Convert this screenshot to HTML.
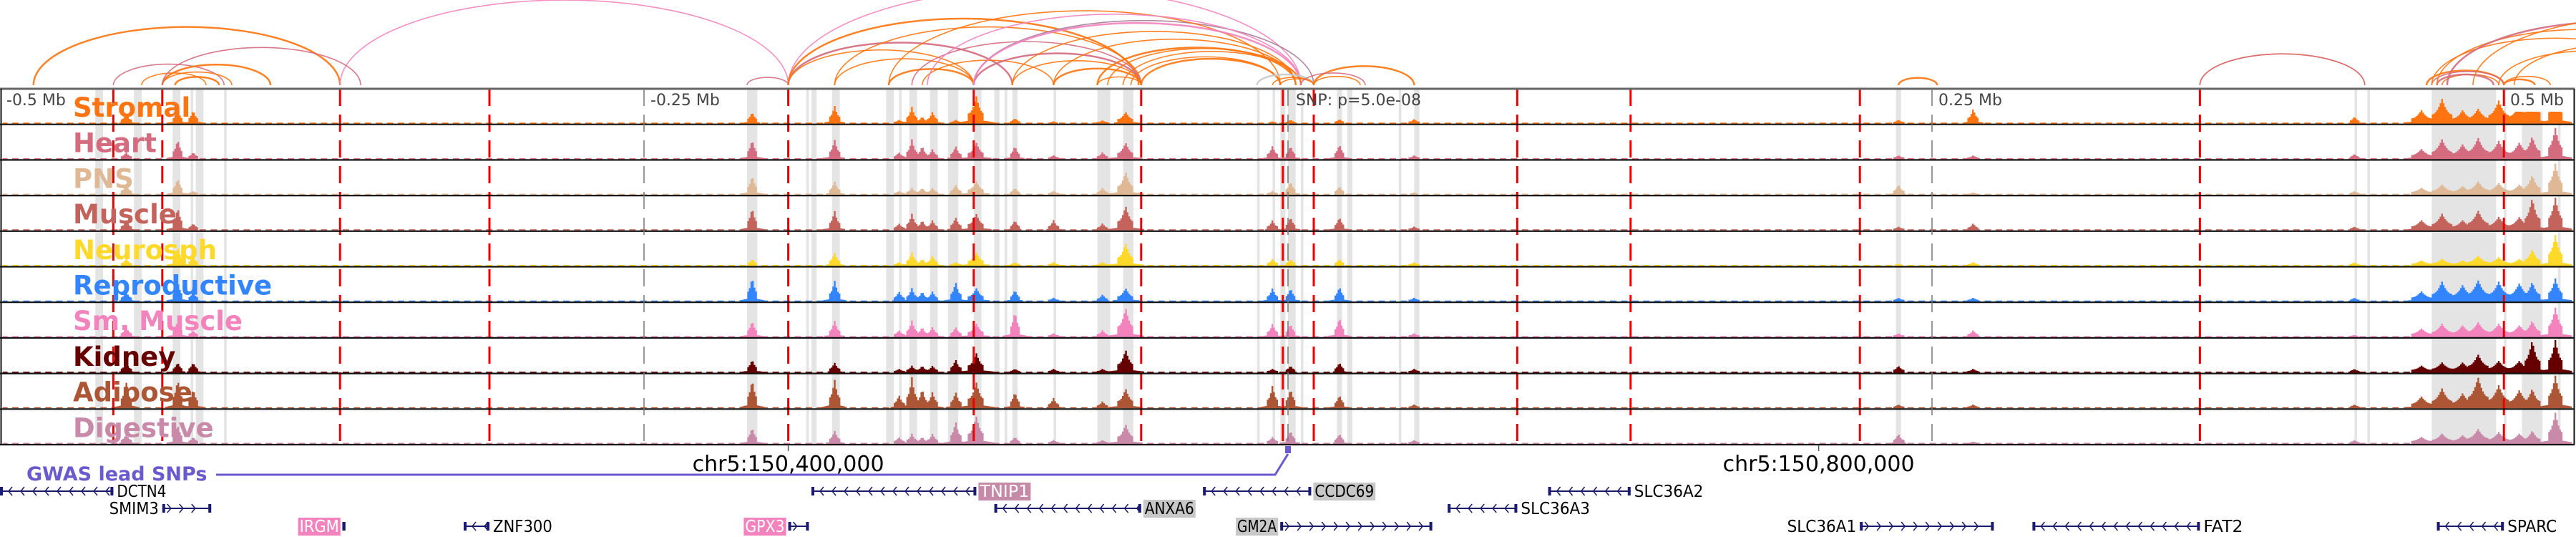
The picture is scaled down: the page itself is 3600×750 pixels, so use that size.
<!DOCTYPE html>
<html><head><meta charset="utf-8">
<style>
html,body{margin:0;padding:0;background:#fff;}
svg{display:block;font-family:"DejaVu Sans","Liberation Sans",sans-serif;}
</style></head>
<body>
<svg id="chart" width="3600" height="750" viewBox="0 0 3600 750" xmlns="http://www.w3.org/2000/svg">
<g id="arcs"></g>
<g id="bands"></g>
<g id="tracks"></g>
<g id="redlines"></g>
<g id="frame"></g>
<g id="labels"></g>
<g id="axis"></g>
<g id="genes"></g>
</svg>
<script>
// ---- data (kb offsets from lead SNP) ----
const tissues = ["Stromal","Heart","PNS","Muscle","Neurosph","Reproductive","Sm. Muscle","Kidney","Adipose","Digestive"];
const tissueColors = ["#ff7410","#d46b7e","#dfb896","#c4635b","#ffd92a","#3385ff","#f283bd","#660000","#ad5635","#c98aa9"];
const peakKb = [-451,-431,-425,-208,-176,-151,-146,-142,-138,-129,-121,-106,-91,-72,-63,-6,1,20,49,237,266,414,440,448,456,462,470,478,483,492];
const peakWidthKb = [2,2,2,2,2,2,2,2,2,2,3,2,2,2,3,2,2,2,2,2,2,2,4,4,4,4,4,4,3,3];
const stromal  = [.3,.4,.4,.35,.55,.1,.5,.2,.35,.1,.85,.15,.05,.08,.35,.05,.1,.12,.12,.1,.45,.2,.4,.75,.4,.45,.7,.6,.95,.9];
const heart    = [.2,.6,.2,.6,.6,.2,.6,.4,.3,.4,.5,.4,.1,.2,.5,.4,.4,.45,.1,.1,.1,.15,.3,.6,.45,.65,.55,.5,.7,.95];
const pns      = [.3,.5,.1,.6,.4,.1,.2,.2,.2,.3,.4,.2,.1,.2,.7,.1,.4,.25,.05,.3,.05,.1,.2,.3,.25,.4,.35,.3,.6,.95];
const muscle   = [.3,.7,.2,.7,.6,.2,.5,.3,.3,.4,.5,.3,.3,.2,.75,.3,.4,.4,.1,.1,.2,.1,.3,.5,.3,.6,.4,.4,1,1];
const neurosph = [.2,.6,.3,.2,.4,.1,.4,.2,.3,.1,.4,.1,.1,.1,.7,.2,.2,.2,.1,.05,.1,.1,.15,.2,.15,.3,.25,.2,.5,.95];
const repro    = [.3,.6,.3,.75,.65,.3,.4,.3,.3,.6,.4,.35,.1,.2,.4,.4,.4,.45,.1,.1,.1,.1,.3,.6,.5,.65,.6,.55,.6,.7];
const smmuscle = [.3,.5,.2,.5,.5,.2,.5,.3,.3,.3,.4,.8,.1,.2,.9,.4,.4,.6,.1,.1,.2,.05,.25,.4,.35,.45,.4,.35,.5,.9];
const kidney   = [.3,.3,.3,.4,.3,.1,.2,.2,.2,.4,.6,.1,.1,.1,.7,.1,.2,.3,.1,.2,.1,.1,.2,.3,.3,.55,.35,.35,1,1];
const adipose  = [.8,.9,.6,.9,.9,.4,.95,.6,.5,.5,.8,.5,.3,.2,.6,.7,.6,.4,.1,.1,.1,.1,.35,.6,.45,.95,.7,.55,.6,1];
const digestive= [.3,.6,.2,.5,.4,.2,.3,.2,.3,.7,.85,.2,.1,.1,.6,.2,.4,.3,.1,.3,.05,.1,.2,.3,.25,.45,.35,.3,.4,.95];
const trackValues = [stromal,heart,pns,muscle,neurosph,repro,smmuscle,kidney,adipose,digestive];
const bandKb = [[-463,-460],[-448,-445],[-433,-430],[-426,-425],[-424,-421],[-413,-412],[-210,-206],[-187,-186],[-185,-183],[-177,-174],[-156,-153],[-151,-150],[-147,-144],[-139,-136],[-132,-130],[-130,-128],[-122,-119],[-114,-112],[-110,-109],[-107,-105],[-91,-90],[-74,-69],[-64,-60],[-12,-11],[-6,-5],[-3,-1],[0,3],[5,6],[19,21],[23,25],[43,44],[49,51],[236,238],[414,415],[419,420],[444,469],[472,473],[479,487],[493,494]];
const redKb = [-456,-437,-368,-310,-194,-122,-57,-2,10,89,133,222,354,472];
const axisKb = [-500,-250,0,250,500];
const axisLabels = ["-0.5 Mb","-0.25 Mb","SNP: p=5.0e-08","0.25 Mb","0.5 Mb"];
const arcKb = [[-487,-368],[-368,-194],[-456,-413],[-437,-395],[-445,-420],[-437,-410],[-432,-415],[-437,-360],
 [-210,-194],[-194,-107],[-194,-122],[-194,5],[-194,-58],[-176,-122],[-176,-57],[-155,-122],[-146,-57],[-142,-91],
 [-122,-57],[-122,10],[-107,-57],[-91,-57],[-74,-57],[-61,-3],[-57,-3],[-155,-3],[-140,5],[-122,5],[-107,3],[-91,3],
 [-74,3],[-70,5],[-64,5],[-12,10],[-6,10],[-3,10],[10,49],[5,30],[10,28],[237,252],[354,418],[354,418],
 [442,472],[444,472],[448,470],[446,468],[444,540],[446,560],[450,580],[460,600],[472,490],[472,484],[470,540],[476,560]];
const arcColorIdx = [0,5,1,0,0,0,0,1,1,1,0,5,0,0,0,0,1,0,1,4,0,0,0,0,0,0,5,5,0,0,0,0,0,3,0,0,0,1,0,0,0,1,0,1,0,1,0,0,1,0,0,0,0,0];
const arcPalette = ["#ff7410","#d46b7e","#ffd92a","#c8c8c8","#a77a98","#f283bd"];
const genes = [
 {name:"DCTN4",s:-500,e:-456,row:0,dir:-1,label:"right",box:null},
 {name:"SMIM3",s:-437,e:-418,row:1,dir:1,label:"left",box:null},
 {name:"IRGM",s:-367,e:-366,row:2,dir:0,label:"left",box:"#f283bd"},
 {name:"ZNF300",s:-320,e:-310,row:2,dir:-1,label:"right",box:null},
 {name:"GPX3",s:-194,e:-186,row:2,dir:1,label:"left",box:"#f283bd"},
 {name:"TNIP1",s:-185,e:-121,row:0,dir:-1,label:"right",box:"#c48aa8"},
 {name:"ANXA6",s:-114,e:-57,row:1,dir:-1,label:"right",box:"#c8c8c8"},
 {name:"CCDC69",s:-33,e:9,row:0,dir:-1,label:"right",box:"#c8c8c8"},
 {name:"GM2A",s:-3,e:56,row:2,dir:1,label:"left",box:"#c8c8c8"},
 {name:"SLC36A3",s:62,e:89,row:1,dir:-1,label:"right",box:null},
 {name:"SLC36A2",s:101,e:133,row:0,dir:-1,label:"right",box:null},
 {name:"SLC36A1",s:222,e:274,row:2,dir:1,label:"left",box:null},
 {name:"FAT2",s:289,e:354,row:2,dir:-1,label:"right",box:null},
 {name:"SPARC",s:446,e:472,row:2,dir:-1,label:"right",box:null}
];
// ---- layout ----
const NS="http://www.w3.org/2000/svg";
const X0=1800, PXPERKB=3.6;
function xScale(kb){return X0+kb*PXPERKB;}
const TOP=124, TH=49.7, NT=10, BOTTOM=TOP+TH*NT;
function trackY(i){return TOP+i*TH;}
function yScale(i,v){return trackY(i)+TH-2 - v*(TH-5);}
function mk(tag,attrs,parent){const el=document.createElementNS(NS,tag);for(const k in attrs)el.setAttribute(k,attrs[k]);parent.appendChild(el);return el;}
const g=id=>document.getElementById(id);

// arcs
arcKb.forEach((a,i)=>{
  const x1=xScale(a[0]),x2=xScale(a[1]),w=x2-x1,ry=0.19*w,yb=119;
  const p=mk('path',{d:`M${x1},${yb} A${w/2},${ry} 0 0 1 ${x2},${yb}`,fill:'none',stroke:arcPalette[arcColorIdx[i]]||"#ff7410",'stroke-width':(i%3==0?2.5:1.6),opacity:0.9},g('arcs'));
  
  
});
// bands
bandKb.forEach(b=>{
  const r=mk('rect',{x:xScale(b[0]),y:TOP,width:Math.max(3,xScale(b[1])-xScale(b[0])),height:BOTTOM-TOP,fill:'#e4e4e4'},g('bands'));
  
  
});
// tracks
const BIN=2.2;
trackValues.forEach((vals,ti)=>{
  const tg=mk('g',{},g('tracks'));
  
  
  let d='';
  let n=0;
  for(let x=5;x<3595;x+=BIN){
    n++;
    const kb=(x-X0)/PXPERKB;
    let v=0;
    peakKb.forEach((c,pi)=>{const w=peakWidthKb[pi];const t=1-Math.abs(kb-c)/w;if(t>0){v=Math.max(v,vals[pi]*(0.35+0.65*t*t));}
      else{const t2=1-Math.abs(kb-c)/(w*3);if(t2>0)v=Math.max(v,vals[pi]*0.12*t2);}});
    const base=yScale(ti,0)+1;
    if(v<0.02){ if(n%7<4) d+=`M${x.toFixed(1)},${base}V${(base-1.5).toFixed(1)}`; continue; }
    const y=Math.min(base-1.5,yScale(ti,v));
    d+=`M${x.toFixed(1)},${base}V${y.toFixed(1)}`;
  }
  mk('path',{d:d,stroke:tissueColors[ti],'stroke-width':BIN+0.2,fill:'none'},tg);
});
// red dashed lines
redKb.forEach(k=>{
  const l=mk('line',{x1:xScale(k),x2:xScale(k),y1:TOP,y2:BOTTOM,stroke:'#ee0000','stroke-width':3,'stroke-dasharray':'24 12'},g('redlines'));
  
  
});
// axis tick lines
axisKb.forEach(k=>{
  if(k>-500&&k<500){const l=mk('line',{x1:xScale(k),x2:xScale(k),y1:TOP,y2:BOTTOM,stroke:'#777','stroke-width':1.5,'stroke-dasharray':'24 12'},g('axis'));
  
  }
});
// frame
for(let i=0;i<=NT;i++){
  const l=mk('line',{x1:0,x2:3598,y1:trackY(i),y2:trackY(i),stroke:i==0?'#666':'#111','stroke-width':i==0?3:2.2},g('frame'));
  
  
}
mk('line',{x1:1.5,x2:1.5,y1:TOP,y2:BOTTOM,stroke:'#111','stroke-width':2},g('frame'));
mk('line',{x1:3597.5,x2:3597.5,y1:TOP,y2:BOTTOM,stroke:'#111','stroke-width':2},g('frame'));
// axis labels
axisKb.forEach((k,i)=>{
  let x=xScale(k)+9; if(k==0)x=xScale(k)+11; if(k==500)x=3508;
  if(k==500) mk('rect',{x:3502,y:TOP+2,width:94,height:30,fill:'#fff'},g('axis'));
  const t=mk('text',{x:x,y:147,'font-size':22,fill:'#444'},g('axis'));
  t.textContent=axisLabels[i];
  
  
});
// track labels
tissues.forEach((n,i)=>{
  const t=mk('text',{x:102,y:trackY(i)+39,'font-size':37,'font-weight':'bold',fill:tissueColors[i]},g('labels'));
  t.textContent=n;
  
  
});
// coordinate ticks
[[-194,"chr5:150,400,000"],[206,"chr5:150,800,000"]].forEach(c=>{
  const x=xScale(c[0]);
  mk('line',{x1:x,x2:x,y1:BOTTOM,y2:BOTTOM+9,stroke:'#555','stroke-width':1.5},g('axis'));
  const t=mk('text',{x:x,y:658,'font-size':30,'text-anchor':'middle',fill:'#000'},g('axis'));
  t.textContent=c[1];
  
  
});
// GWAS
const gw=g('genes');
const gt=mk('text',{x:37,y:671,'font-size':27,'font-weight':'bold',fill:'#6a5acd'},gw);
gt.textContent="GWAS lead SNPs";


const gp=mk('path',{d:`M302,663 H${xScale(-5)} L${xScale(0)},634`,stroke:'#6a5acd','stroke-width':3,fill:'none'},gw);


const gs=mk('rect',{x:xScale(0)-4,y:623,width:8,height:10,fill:'#6a5acd'},gw);


// genes
const rowY=[686,710,735];
genes.forEach(ge=>{
  const gg=mk('g',{},gw);
  
  
  const x1=xScale(ge.s),x2=xScale(ge.e),y=rowY[ge.row];
  mk('line',{x1:x1,x2:x2,y1:y,y2:y,stroke:'#1a1a6e','stroke-width':2},gg);
  if(ge.dir!==0){for(let x=x1+12;x<x2-6;x+=17){const dx=ge.dir>0?-5:5;mk('path',{d:`M${x+dx},${y-6}L${x},${y}L${x+dx},${y+6}`,stroke:'#1a1a6e','stroke-width':1.5,fill:'none'},gg);}}
  mk('rect',{x:x1,y:y-6,width:4,height:12,fill:'#1a1a6e'},gg);
  mk('rect',{x:x2-4,y:y-6,width:4,height:12,fill:'#1a1a6e'},gg);
  const fs=23, tw=ge.name.length*fs*0.6+4;
  const tx=ge.label=="right"?x2+3:x1-3-tw;
  if(ge.box) mk('rect',{x:tx,y:y-12,width:tw,height:25,fill:ge.box},gg);
  const t=mk('text',{x:tx+2,y:y+8,'font-size':fs,fill:(ge.box&&ge.box!="#c8c8c8")?'#fff':'#000',textLength:tw-4,lengthAdjust:'spacingAndGlyphs'},gg);
  t.textContent=ge.name;
});
</script>
</body></html>
